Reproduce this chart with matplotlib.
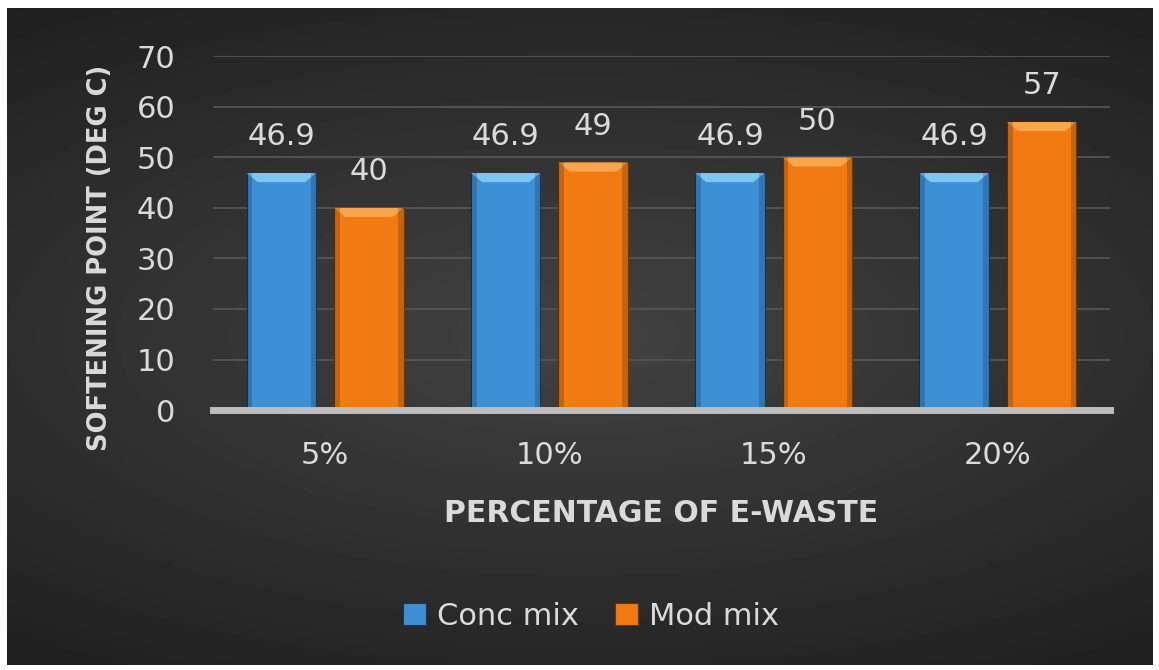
import numpy as np
import matplotlib.pyplot as plt
from matplotlib.patches import Polygon, Rectangle

categories = ["5%", "10%", "15%", "20%"]
conc_mix = [46.9, 46.9, 46.9, 46.9]
mod_mix = [40, 49, 50, 57]
y_ticks = [0, 10, 20, 30, 40, 50, 60, 70]

text_col = "#dadada"
blue = "#3d8fd6"
orange = "#f17b12"
plt.rcParams['font.family'] = ['DejaVu Sans']

fig = plt.figure(figsize=(11.59, 6.70), dpi=100)
fig.patch.set_facecolor("white")

# dark panel with a soft radial glow in the middle
bg = fig.add_axes([0.006, 0.008, 0.988, 0.98])
yy, xx = np.mgrid[-1:1:200j, -1:1:300j]
r = np.sqrt((xx * 0.8) ** 2 + (yy * 1.1) ** 2)
bg.imshow(0.26 - 0.10 * r, cmap="gray", vmin=0, vmax=1, aspect="auto",
          extent=[0, 1, 0, 1])
bg.set_axis_off()

ax = fig.add_axes([0.1838, 0.388, 0.774, 0.528])
ax.patch.set_alpha(0)
x = np.arange(len(categories))
w = 0.31
off = 0.195

def draw_bars(xs, vals, color, cap, edge):
    bars = ax.bar(xs, vals, w, color=color, edgecolor=edge, linewidth=0.8, zorder=3)
    for b in bars:
        x0, x1 = b.get_x(), b.get_x() + b.get_width()
        top = b.get_height()
        # bevelled cap on top of each bar
        ax.add_patch(Polygon([[x0, top], [x1, top], [x1 - 0.05, top - 1.8], [x0 + 0.05, top - 1.8]],
                             closed=True, facecolor=cap, edgecolor="none", zorder=4))
        ax.add_patch(Rectangle((x0, 0), 0.025, top, facecolor="black", alpha=0.18,
                               edgecolor="none", zorder=4))
        ax.add_patch(Rectangle((x1 - 0.025, 0), 0.025, top, facecolor="black", alpha=0.18,
                               edgecolor="none", zorder=4))
    return bars

b1 = draw_bars(x - off, conc_mix, blue, "#7cc8f4", "#1f3550")
b2 = draw_bars(x + off, mod_mix, orange, "#f9a64a", "#6a3608")

for xs, vals in [(x - off, conc_mix), (x + off, mod_mix)]:
    for xi, v in zip(xs, vals):
        ax.text(xi, v + 5.5, f"{v:g}", ha="center", va="baseline", fontsize=22,
                color=text_col)

ax.set_xlim(-0.5, len(categories) - 0.5)
ax.set_ylim(0, 70)
ax.set_yticks(y_ticks)
ax.set_xticks(x)
ax.set_xticklabels(categories)
ax.tick_params(axis="both", length=0, colors=text_col, labelsize=22)
ax.tick_params(axis="x", pad=22)
ax.tick_params(axis="y", pad=27)
ax.grid(axis="y", color="#585858", linewidth=1.2, zorder=0)
for s in ["top", "right", "left"]:
    ax.spines[s].set_visible(False)
ax.spines["bottom"].set_color("#bdbdbd")
ax.spines["bottom"].set_linewidth(5)
ax.spines["bottom"].set_zorder(5)

ax.set_xlabel("PERCENTAGE OF E-WASTE", fontsize=21.5, fontweight="bold", color=text_col,
              labelpad=21)
ax.set_ylabel("SOFTENING POINT (DEG C)", fontsize=18.5, fontweight="bold", color=text_col)
ax.yaxis.set_label_coords(-0.112, 0.43)

leg = fig.legend([b1, b2], ["Conc mix", "Mod mix"], loc="center", bbox_to_anchor=(0.51, 0.08),
                 ncol=2, frameon=False, fontsize=22, handlelength=0.75, handleheight=0.75,
                 handletextpad=0.35, columnspacing=1.2)
for t in leg.get_texts():
    t.set_color(text_col)

fig.savefig("out.png", dpi=100)
